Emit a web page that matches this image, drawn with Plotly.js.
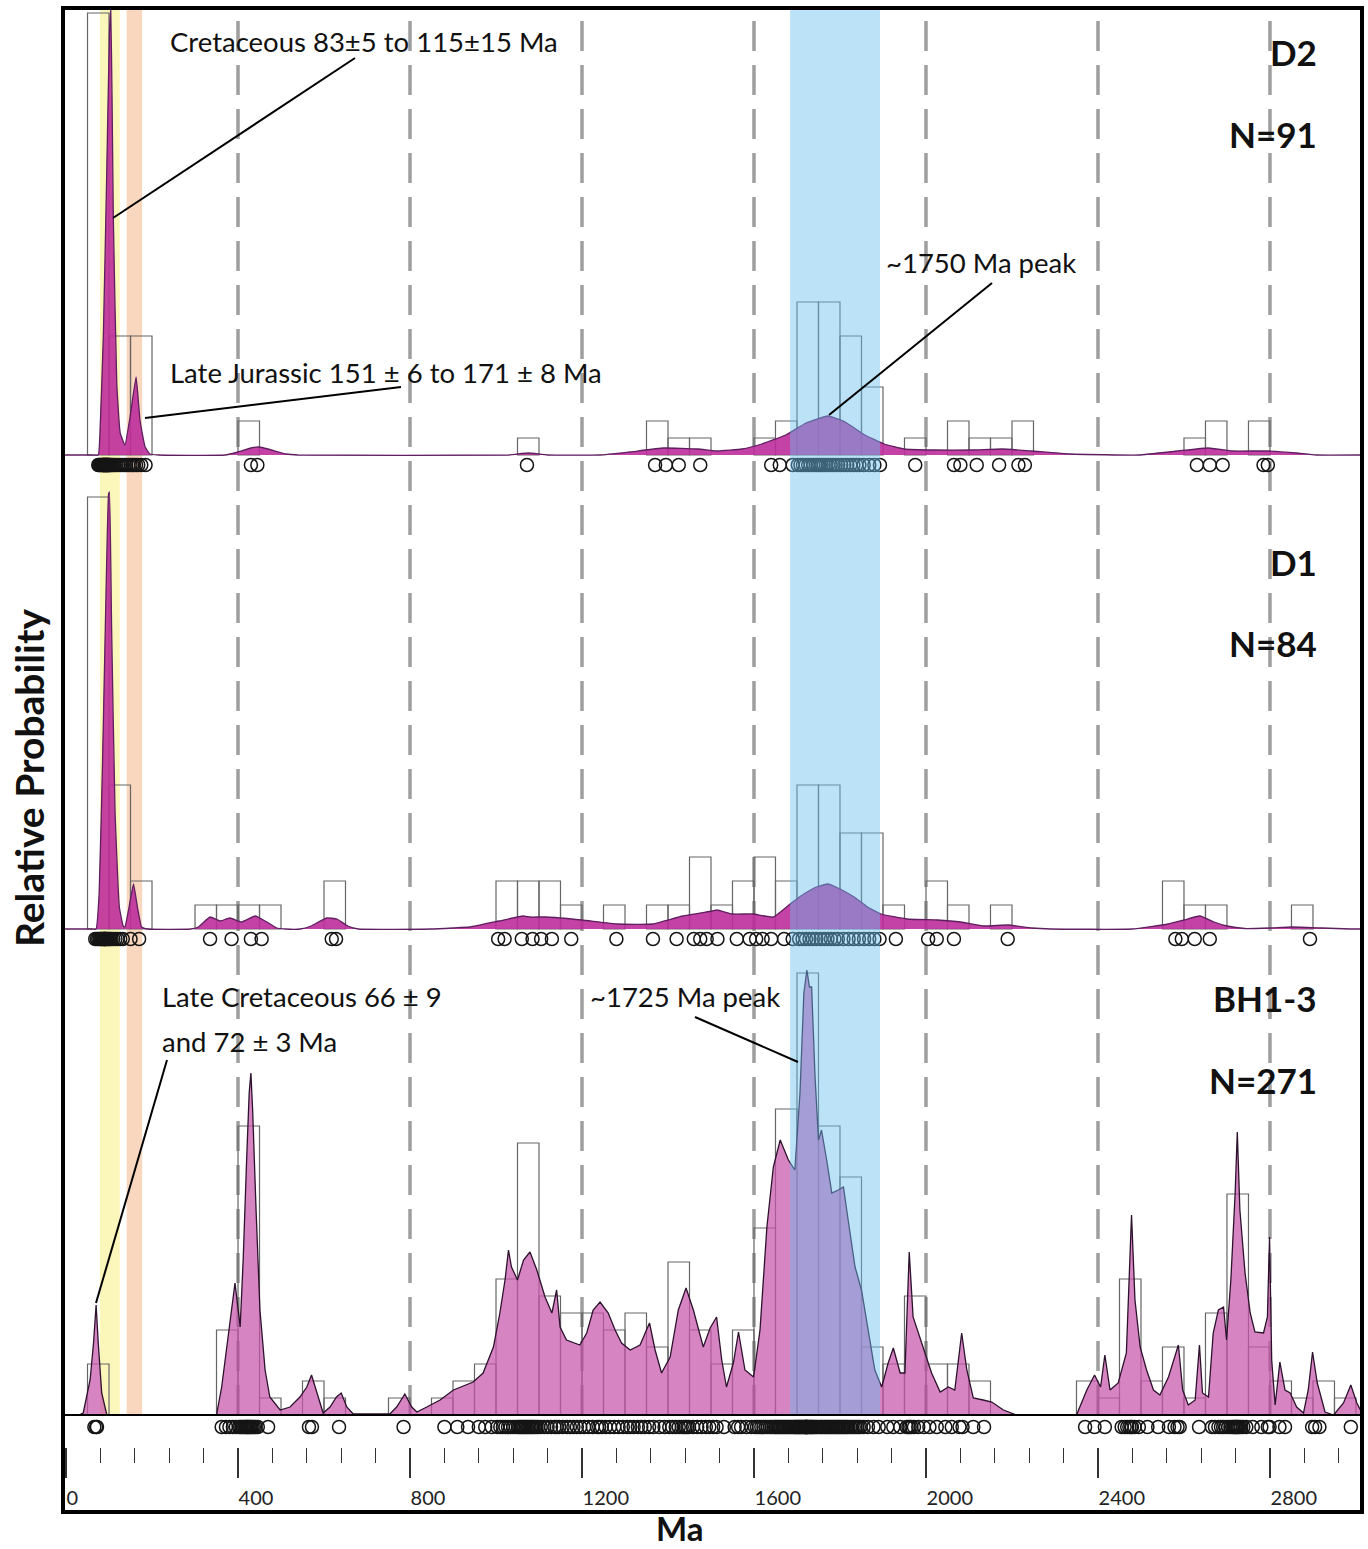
<!DOCTYPE html>
<html>
<head>
<meta charset="utf-8">
<script src="https://cdn.plot.ly/plotly-3.0.1.min.js"></script>
<style>html,body{margin:0;padding:0;background:#fff}</style>
</head>
<body>
<div id="chart" style="width:1368px;height:1549px"></div>
<script>
// ---------------- DATA ----------------
const tickVals = [0, 400, 800, 1200, 1600, 2000, 2400, 2800];
const tickText = ['0', '400', '800', '1200', '1600', '2000', '2400', '2800'];
const dashedAges = [400, 800, 1200, 1600, 2000, 2400, 2800];
const bandYellow = [79, 125];
const bandPeach = [141, 177];
const bandBlue = [1684, 1893];
const binWidth = 50;

// D2 histogram (bin start, count)
const d2BinStart = [50,100,150,400,1050,1350,1400,1450,1600,1650,1700,1750,1800,1850,1950,2050,2100,2150,2200,2600,2650,2750];
const d2Count    = [26,7,7,2,1,2,1,1,1,2,9,9,7,4,1,2,1,1,2,1,2,2];
// D2 probability density curve
const d2PdpAge = [-7,60,75,79,87,95,101,104,107,110,118,126,137,149,163,172,184,195,215,370,400,430,449,470,512,540,1030,1060,1075,1090,1120,1242,1310,1390,1470,1516,1572,1618,1674,1721,1772,1812,1858,1903,1949,2016,2109,2177,2245,2335,2495,2586,2656,2712,2793,2861,2907,3014];
const d2PdpVal = [0,0,0,22,122,288,422,445,360,238,72,22,10,38,78,35,8,1,0,0,3,7,8,6,1,0,0,1.5,2,1.5,0,0,3,7,6,4,6,11,20,32,39,33,20,11,6,5,5,6,4,1,0,4,7,4,4,2,0,0];
// D2 single grain ages
const d2Ages = [75,77,79,81,83,85,86,87,88,89,90,91,92,93,94,95,96,97,98,99,100,102,104,106,109,112,
  116,121,126,131,136,140,145, 150,154,158,163,168,175,185, 430,445, 1072, 1370,1395,1425,1475,
  1640,1660,1690, 1702,1708,1714,1720,1726,1732,1738,1744,1748, 1752,1757,1762,1767,1772,1778,1784,1790,1796,
  1803,1810,1817,1824,1831,1838,1845, 1855,1868,1880,1893, 1975, 2065,2080, 2118, 2170, 2215,2230,
  2630, 2660,2690, 2785,2795];

// D1 histogram
const d1BinStart = [50,100,150,300,350,400,450,600,1000,1050,1100,1150,1250,1350,1400,1450,1500,1550,1600,1650,1700,1750,1800,1850,1900,2000,2050,2150,2550,2600,2650,2850];
const d1Count    = [18,6,2,1,1,1,1,2,2,2,2,1,1,1,1,3,1,2,3,2,6,6,4,4,1,2,1,1,2,1,1,1];
// D1 probability density curve
const d1PdpAge = [-7,60,70,77,85,93,99,101,106,114,124,133,137,145,157,166,176,190,290,308,335,358,381,408,440,467,490,510,545,570,606,630,655,680,850,900,939,1007,1063,1079,1117,1200,1283,1365,1434,1503,1514,1550,1598,1645,1684,1709,1740,1771,1800,1833,1864,1895,1956,2026,2081,2135,2191,2246,2290,2480,2563,2600,2637,2670,2700,2741,2800,2851,2920,2988,3014];
const d1PdpVal = [0,0,0,35,168,335,435,437,302,118,22,3,2,18,45,22,2,0,0,2,12,8,11,7,13,7,1,0,0,3,11,10,3,0,0,1,2,8,13,12,12,9,5,5,13,18,19,15,15,12,25,33,41,45,40,32,22,15,10,9,7,3,4,1,0,0,5,9,13,7,3,0.5,1,2,1,0,0];
// D1 single grain ages
const d1Ages = [68,72,75,78,80,82,84,86,88,89,90,91,92,94,96,98,100,103, 106,110,115,120,126,132, 150,170,
  335,385,430,455, 618,628, 1005,1020,1060,1085,1105,1130,1175, 1280,1365,1420, 1460,1475,1490,1515,
  1560,1590, 1605,1620,1640, 1670,1690, 1705,1713,1721,1729,1737,1745, 1755,1763,1771,1779,1787,1795,
  1808,1820,1832,1844, 1856,1868,1880,1892, 1930, 2005,2025, 2065, 2190, 2580,2595,2625,2660, 2893];

// BH1-3 histogram
const bhBinStart = [50,350,400,450,550,600,750,850,900,950,1000,1050,1100,1150,1200,1250,1300,1350,1400,1450,1500,1550,1600,1650,1700,1750,1800,1850,1900,1950,2000,2050,2100,2350,2400,2450,2500,2550,2600,2650,2700,2750,2800,2850,2900,2950];
const bhCount    = [3,5,17,1,2,1,1,1,2,3,8,16,7,6,6,5,6,4,9,5,3,5,11,18,26,17,14,4,3,7,3,3,2,2,1,8,2,4,1,6,13,4,2,1,2,1];
// BH1-3 probability density curve
const bhPdpAge = [-7,30,40,56,64,70,75,83,95,350,362,374,385,393,405,412,420,426,430,434,442,451,463,474,498,521,544,560,571,583,598,614,629,640,653,668,753,769,788,804,816,839,870,901,947,970,994,1009,1021,1029,1036,1050,1064,1079,1095,1114,1130,1141,1149,1164,1195,1211,1226,1242,1261,1277,1292,1312,1335,1357,1370,1385,1405,1424,1442,1459,1482,1498,1513,1525,1536,1552,1564,1579,1599,1614,1630,1645,1661,1680,1695,1707,1716,1723,1729,1734,1742,1750,1757,1769,1781,1796,1808,1819,1835,1850,1866,1881,1897,1912,1924,1940,1951,1961,1970,1982,1997,2013,2033,2052,2067,2083,2095,2110,2133,2153,2180,2211,2350,2374,2392,2406,2416,2428,2447,2466,2478,2486,2498,2513,2529,2544,2564,2579,2587,2597,2610,2626,2636,2643,2657,2668,2680,2692,2699,2709,2719,2724,2730,2742,2754,2765,2785,2794,2799,2804,2812,2823,2835,2847,2862,2878,2889,2899,2910,2928,2948,2971,2988,3002,3014];
const bhPdpVal = [0,0,2,35,72,110,72,22,0,0,28,68,108,132,88,155,255,322,342,305,205,105,45,18,5,8,18,28,40,22,2,8,18,22,8,1,1,8,21,8,3,8,15,25,33,42,68,102,135,165,148,135,155,163,145,118,102,125,88,75,70,82,105,113,102,85,72,65,70,92,65,42,58,105,127,105,68,87,98,55,28,52,83,45,38,85,188,248,275,255,245,322,422,445,428,428,338,275,285,255,222,225,228,195,148,125,82,45,28,52,67,42,42,163,98,83,62,42,23,28,25,82,45,17,15,13,5,0,0,25,40,28,60,25,32,62,200,115,68,45,25,20,38,58,70,25,10,15,70,22,18,82,105,108,75,135,222,283,205,142,102,83,82,98,178,55,10,53,25,22,8,2,25,63,32,3,0,12,30,12,2];
// BH1-3 single grain ages
const bhAges = [66,70,72, 362,372,380,388,395,
  402,405,408,411,414,417,419,421,423,425,427,429,431,434,437,441,446, 470, 565,572, 635, 785, 880, 910,935, 960,975,990,
  1003,1010,1016,1022,1028,1034,1040,1046,
  1051,1054,1057,1060,1063,1066,1069,1072,1075,1078,1081,1084,1087,1090,1094,1098,
  1104,1112,1120,1128,1136,1141,1147, 1155,1165,1172,1180,1188,1196, 1205,1215,1225,1235,1240,1246,
  1255,1265,1275,1285,1295, 1305,1312,1320,1330,1338,1346, 1356,1366,1380,1392,
  1403,1410,1418,1425,1432,1437,1441,1445,1449, 1458,1468,1478,1488,1496, 1505,1513,1530,
  1555,1563,1570,1582,1594, 1602,1607,1612,1617,1622,1627,1632,1637,1641,1645,1649,
  1651,1654,1657,1660,1663,1666,1669,1672,1675,1678,1681,1684,1687,1690,1693,1695,1697,1699,
  1701,1703,1705,1707,1709,1711,1713,1715,1717,1719,1720,1721,1722,1723,1724,1725,1727,1729,1731,1733,1735,1737,1739,1742,1745,1748,
  1752,1755,1758,1761,1764,1767,1770,1773,1776,1779,1782,1785,1788,1791,1794,1796,1799,
  1802,1805,1808,1811,1814,1817,1820,1824,1828,1832,1836,1840,1844,1848,
  1855,1865,1878,1890, 1910,1924,1940, 1955,1959,1962,1966,1972,1982,1995, 2008,2025,2045, 2060,2078,2085, 2110,2135,
  2370,2392, 2416, 2455,2462,2468,2473,2477,2479,2485,2495, 2515,2540, 2565,2578,2585,2590, 2635,
  2665,2672,2680,2686,2691,2697, 2703,2708,2712,2715,2718,2720,2722,2724,2726,2729,2733,2738,2745,
  2760,2780,2795,2799, 2822,2835, 2898, 2905,2915, 2988];

const panelLabels = ['D2', 'N=91', 'D1', 'N=84', 'BH1-3', 'N=271'];

// ---------------- LAYOUT GEOMETRY ----------------
const W = 1368, H = 1549, ML = 63, MR = 6, MT = 8, MB = 37;
const plotW = W - ML - MR, plotH = H - MT - MB;
const xp = px => (px - ML) / plotW;
const yp = py => (H - MB - py) / plotH;

// panel pixel geometry: bottom of domain, baseline, top of domain, px per count
const panels = [
  {bottom: 478, base: 455, top: 8,   unit: 17},
  {bottom: 952, base: 929, top: 478, unit: 24},
  {bottom: 1440, base: 1415, top: 952, unit: 17}
];

const barColor = '#666666';
function histTrace(starts, counts, ya) {
  return {type: 'bar', x: starts, y: counts, width: binWidth, offset: 0, xaxis: 'x', yaxis: ya,
    marker: {color: 'rgba(0,0,0,0)', line: {color: barColor, width: 1.2}}, hoverinfo: 'skip', showlegend: false};
}
function pdpTrace(ages, vals, ya, fillc, linec, shape) {
  return {type: 'scatter', mode: 'lines', x: ages, y: vals, xaxis: 'x', yaxis: ya, fill: 'tozeroy',
    fillcolor: fillc, line: {color: linec, width: 1.3, shape: shape, smoothing: 0.35}, hoverinfo: 'skip', showlegend: false};
}
function ageTrace(ages, ya, rowY) {
  return {type: 'scatter', mode: 'markers', x: ages, y: ages.map(() => rowY), xaxis: 'x', yaxis: ya,
    marker: {symbol: 'circle-open', size: 13, color: '#151515', line: {width: 1.5}}, hoverinfo: 'skip', showlegend: false, cliponaxis: false};
}

const dFill = 'rgba(190,45,155,0.9)', dLine = 'rgb(95,30,95)';
const bFill = 'rgba(200,85,172,0.72)', bLine = 'rgb(45,18,45)';

const data = [
  histTrace(d2BinStart, d2Count, 'y'),
  pdpTrace(d2PdpAge, d2PdpVal, 'y2', dFill, dLine, 'spline'),
  ageTrace(d2Ages, 'y2', -10),
  histTrace(d1BinStart, d1Count, 'y3'),
  pdpTrace(d1PdpAge, d1PdpVal, 'y4', dFill, dLine, 'spline'),
  ageTrace(d1Ages, 'y4', -10),
  histTrace(bhBinStart, bhCount, 'y5'),
  pdpTrace(bhPdpAge, bhPdpVal, 'y6', bFill, bLine, 'linear'),
  ageTrace(bhAges, 'y6', -12)
];

const layout = {
  width: W, height: H,
  margin: {l: ML, r: MR, t: MT, b: MB},
  paper_bgcolor: '#fff', plot_bgcolor: 'rgba(0,0,0,0)',
  showlegend: false, barmode: 'overlay', hovermode: false,
  font: {family: 'Lato, "Open Sans", sans-serif', color: '#111'},
  xaxis: {
    range: [-7, 3014], anchor: 'free', position: yp(1447),
    tickmode: 'array', tickvals: tickVals, ticktext: tickText,
    ticks: 'outside', ticklen: 30, tickwidth: 1.2, tickcolor: '#333',
    minor: {tickmode: 'linear', tick0: 0, dtick: 80, ticks: 'outside', ticklen: 15, tickwidth: 1.2, tickcolor: '#333', showgrid: false},
    ticklabelposition: 'outside right', ticklabelstandoff: 33,
    tickfont: {family: 'Lato', size: 20, color: '#222'},
    showgrid: false, zeroline: false, showline: false
  },
  shapes: [],
  annotations: []
};

panels.forEach((p, i) => {
  const dom = [yp(p.bottom), yp(p.top)];
  const below = p.bottom - p.base, above = p.base - p.top;
  const histName = i === 0 ? 'y' : 'y' + (2 * i + 1);
  layout['yaxis' + (i === 0 ? '' : (2 * i + 1))] = {domain: dom, range: [-below / p.unit, above / p.unit], visible: false, anchor: 'x', fixedrange: true};
  layout['yaxis' + (2 * i + 2)] = {domain: dom, range: [-below, above], visible: false, anchor: 'x', overlaying: histName, fixedrange: true};
});

// pale age bands (below data)
[[bandYellow, 'rgb(251,246,186)'], [bandPeach, 'rgb(249,214,190)']].forEach(([b, c]) => {
  layout.shapes.push({type: 'rect', xref: 'x', yref: 'paper', x0: b[0], x1: b[1], y0: yp(1415), y1: 1,
    fillcolor: c, line: {width: 0}, layer: 'below'});
});
// dashed reference lines
dashedAges.forEach(a => {
  layout.shapes.push({type: 'line', xref: 'x', yref: 'paper', x0: a, x1: a, y0: yp(1415), y1: 1,
    line: {color: '#9e9e9e', width: 3.5, dash: '30px,14px'}, layer: 'below'});
});
// blue band over data
layout.shapes.push({type: 'rect', xref: 'x', yref: 'paper', x0: bandBlue[0], x1: bandBlue[1], y0: yp(1415), y1: 1,
  fillcolor: 'rgb(105,190,238)', opacity: 0.45, line: {width: 0}, layer: 'above'});
// BH baseline
layout.shapes.push({type: 'line', xref: 'paper', yref: 'y6', x0: 0, x1: 1, y0: 0, y1: 0, line: {color: '#000', width: 2}, layer: 'above'});
// frame
layout.shapes.push({type: 'rect', xref: 'paper', yref: 'paper', x0: 0, x1: 1, y0: 0, y1: 1, line: {color: '#000', width: 4}, layer: 'above'});
// leader lines (pixel positions)
[[355, 58, 113, 218], [401, 387, 145, 418], [992, 283, 829, 415], [167, 1060, 96, 1303], [695, 1017, 798, 1062]].forEach(l => {
  layout.shapes.push({type: 'line', xref: 'paper', yref: 'paper', x0: xp(l[0]), y0: yp(l[1]), x1: xp(l[2]), y1: yp(l[3]),
    line: {color: '#000', width: 2}, layer: 'above'});
});

const noteFont = {family: 'Lato', size: 27.5, color: '#111'};
const notes = [
  ['Cretaceous 83±5 to 115±15 Ma', 168, 41],
  ['Late Jurassic 151 ± 6 to 171 ± 8 Ma', 168, 372],
  ['~1750 Ma peak', 884, 262],
  ['Late Cretaceous 66 ± 9', 160, 996],
  ['and 72 ± 3 Ma', 160, 1041],
  ['~1725 Ma peak', 588, 996]
];
notes.forEach(n => layout.annotations.push({text: n[0], xref: 'paper', yref: 'paper', x: xp(n[1]), y: yp(n[2]),
  xanchor: 'left', yanchor: 'middle', showarrow: false, font: noteFont}));

const labelY = [52, 134, 562, 643, 998, 1080];
panelLabels.forEach((t, i) => layout.annotations.push({text: t, xref: 'paper', yref: 'paper', x: xp(1319), y: yp(labelY[i]),
  xanchor: 'right', yanchor: 'middle', showarrow: false, font: {family: 'Lato', size: 35, weight: 700, color: '#111'}}));

layout.annotations.push({text: 'Relative Probability', xref: 'paper', yref: 'paper', x: xp(29), y: yp(778), textangle: -90,
  xanchor: 'center', yanchor: 'middle', showarrow: false, font: {family: 'Lato', size: 39, weight: 700, color: '#111'}});
layout.annotations.push({text: 'Ma', xref: 'paper', yref: 'paper', x: xp(680), y: yp(1528),
  xanchor: 'center', yanchor: 'middle', showarrow: false, font: {family: 'Lato', size: 33, weight: 700, color: '#111'}});

Plotly.newPlot('chart', data, layout, {staticPlot: true, displayModeBar: false});
</script>
</body>
</html>
